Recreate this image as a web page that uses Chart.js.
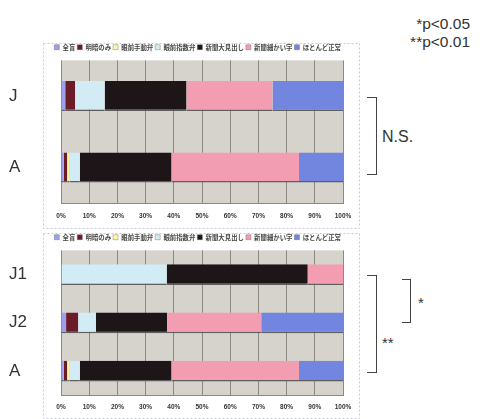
<!DOCTYPE html>
<html>
<head>
<meta charset="utf-8">
<script src="https://cdn.jsdelivr.net/npm/chart.js@4.4.1/dist/chart.umd.min.js"></script>
<style>
  body { margin: 0; width: 482px; height: 419px; background: #fff; position: relative; overflow: hidden;
         font-family: Arial, 'Liberation Sans', sans-serif; color: #333; }
  canvas { position: absolute; left: 0; }
  .br { position: absolute; border: 1.5px solid #444; border-left: none; box-sizing: border-box; }
  .t { position: absolute; white-space: nowrap; line-height: 1; }
</style>
</head>
<body>
<canvas id="top" width="362" height="190" style="top:40px"></canvas>
<canvas id="bottom" width="362" height="188" style="top:231px"></canvas>

<div class="t" style="right:12px;top:16px;font-size:15.5px">*p&lt;0.05</div>
<div class="t" style="right:12px;top:34px;font-size:15.5px">**p&lt;0.01</div>

<div class="br" style="left:367px;top:97px;width:10px;height:78px"></div>
<div class="t" style="left:382px;top:129px;font-size:16px">N.S.</div>

<div class="br" style="left:367px;top:275px;width:10px;height:98px"></div>
<div class="br" style="left:402px;top:279px;width:9px;height:44px"></div>
<div class="t" style="left:418px;top:295px;font-size:15px">*</div>
<div class="t" style="left:382px;top:335px;font-size:15px">**</div>

<script>
// Visual acuity levels (stack order, left to right)
const categories = ['全盲', '明暗のみ', '眼前手動弁', '眼前指数弁', '新聞大見出し', '新聞細かい字', 'ほとんど正常'];
const colors = ['#9ba1ec', '#6c1b29', '#fff8a0', '#d3ebf5', '#1d1517', '#f29db1', '#7285df'];

// Upper panel groups and their share (%) per level
const groupsTop = ['J', 'A'];
const valJ  = [1.5, 3.5, 0, 10.5, 29.0, 30.5, 25.0];
const valA  = [1.0, 1.2, 0.8, 3.7, 32.5, 45.2, 15.6];

// Lower panel groups and their share (%) per level
const groupsBottom = ['J1', 'J2', 'A'];
const valJ1 = [0, 0, 0, 37.5, 50.0, 12.5, 0];
const valJ2 = [1.8, 4.3, 0, 6.3, 25.2, 33.4, 29.0];
const valA2 = [1.0, 1.2, 0.8, 3.7, 32.5, 45.2, 15.6];

const xTicks = [0, 10, 20, 30, 40, 50, 60, 70, 80, 90, 100];

// White panel with dotted frame, grey plotting area
const panelBg = {
  id: 'panelBg',
  beforeDraw(chart, args, opts) {
    const { ctx, chartArea: a } = chart;
    ctx.save();
    ctx.fillStyle = '#fff';
    ctx.fillRect(0, 0, chart.width, chart.height);
    ctx.strokeStyle = '#c7c9de';
    ctx.lineWidth = 1;
    ctx.setLineDash([2, 2]);
    ctx.strokeRect(43.5, opts.top + 0.5, 316, opts.bottom - opts.top);
    ctx.setLineDash([]);
    ctx.fillStyle = '#d6d3cd';
    ctx.fillRect(a.left, a.top, a.right - a.left, a.bottom - a.top);
    ctx.restore();
  }
};

function makeChart(id, groups, rows, pad, barPct, frame, tickPad) {
  const datasets = categories.map((name, i) => ({
    label: name,
    data: rows.map(r => r[i]),
    backgroundColor: colors[i],
    borderColor: '#5e5e5e',
    borderWidth: { top: 0, left: 0, right: 0, bottom: 1.5 },
    borderSkipped: false,
    barPercentage: barPct,
    categoryPercentage: 1
  }));
  return new Chart(document.getElementById(id), {
    type: 'bar',
    data: { labels: groups, datasets },
    plugins: [panelBg],
    options: {
      responsive: false,
      animation: false,
      devicePixelRatio: 1,
      indexAxis: 'y',
      layout: { padding: pad },
      plugins: {
        panelBg: frame,
        tooltip: { enabled: false },
        legend: {
          position: 'top',
          align: 'end',
          labels: {
            boxWidth: 5, boxHeight: 5, padding: 2,
            color: '#444',
            font: { family: "'Noto Sans CJK JP'", size: 6.4, weight: 'bold' }
          }
        }
      },
      scales: {
        x: {
          stacked: true, min: 0, max: 100,
          afterBuildTicks: s => { s.ticks = xTicks.map(v => ({ value: v })); },
          grid: { color: '#8c8983', lineWidth: 1, drawTicks: false },
          border: { color: '#8c8983' },
          ticks: {
            padding: tickPad, color: '#333',
            font: { family: "'Liberation Sans'", size: 6.5, weight: 'bold' },
            callback: v => v + '%'
          }
        },
        y: {
          stacked: true,
          grid: { display: false },
          border: { display: false },
          ticks: {
            crossAlign: 'far', padding: 0, color: '#333',
            font: { family: "Arial, 'Liberation Sans'", size: 17 }
          },
          afterFit: s => { s.width = 52; }
        }
      }
    }
  });
}

makeChart('top', groupsTop, [valJ, valA],
  { left: 9, right: 19, top: 2, bottom: 1 }, 0.42, { top: 3, bottom: 188 }, 9);
makeChart('bottom', groupsBottom, [valJ1, valJ2, valA2],
  { left: 9, right: 19, top: 1, bottom: 0 }, 0.43, { top: 2, bottom: 187 }, 8);
</script>
</body>
</html>
